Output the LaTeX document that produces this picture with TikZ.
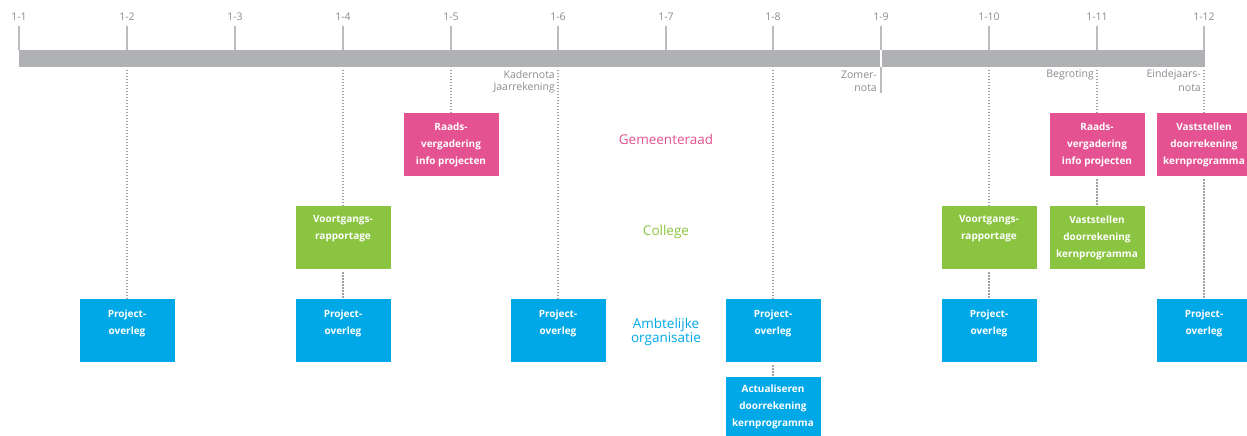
\documentclass[tikz,border=0pt]{standalone}
\usepackage{fontspec}
\setmainfont{Open Sans}
\definecolor{pinkc}{RGB}{228,82,146}
\definecolor{greenc}{RGB}{139,196,64}
\definecolor{bluec}{RGB}{0,168,232}
\definecolor{barc}{RGB}{176,177,180}
\definecolor{tickc}{RGB}{188,188,190}
\definecolor{labc}{RGB}{140,140,145}
\definecolor{dotc}{RGB}{160,160,165}
\begin{document}
\begin{tikzpicture}[x=1pt,y=-1pt,
  box/.style={minimum width=95pt,minimum height=63pt,inner sep=0pt,align=center,
    text=white,font=\fontsize{10}{17}\selectfont\bfseries},
  pbox/.style={box,fill=pinkc},
  gbox/.style={box,fill=greenc},
  bbox/.style={box,fill=bluec},
  ticklab/.style={text=labc,font=\fontsize{10.5}{11}\selectfont,inner sep=0pt},
  sidelab/.style={text=labc,font=\fontsize{10.5}{13}\selectfont,inner sep=0pt,anchor=east},
  lane/.style={font=\fontsize{13.5}{14}\selectfont,align=center,inner sep=0pt},
  tickline/.style={draw=tickc,line width=1.2pt},
  dotline/.style={draw=dotc,line width=1.3pt,dash pattern=on 1.3pt off 1.7pt,shorten <=3pt}]
\useasboundingbox (0,0) rectangle (1247,436);
\fill[white] (0,0) rectangle (1247,436);
% ticks and labels
\foreach \i/\x in {1/19,2/127,3/235,4/343,5/451,6/558,7/666,8/773,9/881,10/989,11/1097,12/1204}{
  \node[ticklab] (lab\i) at (\x,17) {1-\i};
  \draw[tickline] (\x,26) -- (\x,50);
  \coordinate (t\i) at (\x,67);
}
% bar
\fill[barc] (19,50) rectangle (1205,67);
\draw[white,line width=1.2pt] (881,50) -- (881,67);
\coordinate (z9) at (881,93);
\draw[tickline] (t9) -- (z9);
% side labels
\node[sidelab] (kad) at (555,75) {Kadernota};
\node[sidelab] (jaar) at (555,88) {Jaarrekening};
\node[sidelab] (zom) at (877,75) {Zomer-};
\node[sidelab] (zomn) at (877,88) {nota};
\node[sidelab] (begr) at (1094,75) {Begroting};
\node[sidelab] (eind) at (1201,75) {Eindejaars-};
\node[sidelab] (eindn) at (1201,88) {nota};
% lane labels
\node[lane,text=pinkc] (gr) at (666,139) {Gemeenteraad};
\node[lane,text=greenc] (col) at (666,232) {College};
\node[lane,text=bluec] (amb) at (666,332) {Ambtelijke\\organisatie};
% Gemeenteraad boxes
\node[pbox] (r5) at (451,144.5) {Raads-\\vergadering\\info projecten};
\node[pbox] (r11) at (1097,144.5) {Raads-\\vergadering\\info projecten};
\node[pbox] (r12) at (1204,144.5) {Vaststellen\\doorrekening\\kernprogramma};
% College boxes
\node[gbox] (c4) at (343,237.5) {Voortgangs-\\rapportage\\[3pt]};
\node[gbox] (c10) at (989,237.5) {Voortgangs-\\rapportage\\[3pt]};
\node[gbox] (c11) at (1097,237.5) {Vaststellen\\doorrekening\\kernprogramma};
% Ambtelijke boxes
\node[bbox] (p2) at (127,330.5) {Project-\\overleg\\~};
\node[bbox] (p4) at (343,330.5) {Project-\\overleg\\~};
\node[bbox] (p6) at (558,330.5) {Project-\\overleg\\~};
\node[bbox] (p8) at (773,330.5) {Project-\\overleg\\~};
\node[bbox] (p10) at (989,330.5) {Project-\\overleg\\~};
\node[bbox] (p12) at (1204,330.5) {Project-\\overleg\\~};
\node[bbox,minimum height=59pt] (a8) at (773,406.5) {Actualiseren\\doorrekening\\kernprogramma};
% dotted connectors
\draw[dotline] (t2) -- (p2.north);
\draw[dotline] (t4) -- (c4.north);
\draw[dotline] (c4.south) -- (p4.north);
\draw[dotline] (t5) -- (r5.north);
\draw[dotline] (t6) -- (p6.north);
\draw[dotline] (t8) -- (p8.north);
\draw[dotline] (p8.south) -- (a8.north);
\draw[dotline] (t10) -- (c10.north);
\draw[dotline] (c10.south) -- (p10.north);
\draw[dotline] (t11) -- (r11.north);
\draw[dotline] (r11.south) -- (c11.north);
\draw[dotline] (t12) -- (r12.north);
\draw[dotline] (r12.south) -- (p12.north);
\end{tikzpicture}
\end{document}
